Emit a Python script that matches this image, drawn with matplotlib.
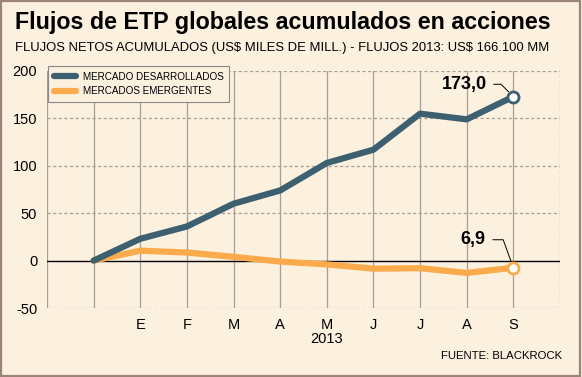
"""Flujos de ETP globales acumulados en acciones."""

import matplotlib

matplotlib.use("Agg")
from matplotlib import pyplot
from matplotlib.patches import Rectangle

months = ["E", "F", "M", "A", "M", "J", "J", "A", "S"]
desarrollados = [0, 23, 36, 60, 74, 103, 117, 155, 149, 173]
emergentes = [0, 10.5, 8.5, 4, -1, -4, -8.5, -8, -13, -7.5]
y_ticks = [-50, 0, 50, 100, 150, 200]

BG = "#fcf0df"
BLUE = "#3d6070"
ORANGE = "#fbab4c"
GRID = "#a59f97"

pyplot.rcParams["font.family"] = ["Liberation Sans", "DejaVu Sans"]

fig = pyplot.figure(figsize=(5.82, 3.77), dpi=100, facecolor=BG)
fig.patches.append(
    Rectangle((0.002, 0.003), 0.995, 0.994, transform=fig.transFigure,
              fill=False, edgecolor="#9c8478", linewidth=1.6)
)

ax = fig.add_axes([47 / 582, 1 - 308 / 377, 513 / 582, 237 / 377])
ax.set_facecolor(BG)
ax.set_xlim(0, 11)
ax.set_ylim(-50, 200)

for s in ax.spines.values():
    s.set_visible(False)

for y in y_ticks:
    if y == 0:
        ax.axhline(0, color="black", linewidth=1.0, zorder=2)
    else:
        ax.axhline(y, color=GRID, linewidth=0.9, linestyle=(0, (2.5, 2)), zorder=1)
for x in range(0, 11):
    ax.axvline(x, color=GRID, linewidth=0.9, zorder=1)
ax.axvline(11, color=GRID, linewidth=0.9, linestyle=(0, (2.5, 2)), zorder=1)

xs = list(range(1, len(desarrollados) + 1))
ax.plot(xs, emergentes, color=ORANGE, linewidth=4.5, solid_capstyle="round",
        solid_joinstyle="round", zorder=3, label="MERCADOS EMERGENTES")
ax.plot(xs, desarrollados, color=BLUE, linewidth=4.5, solid_capstyle="round",
        solid_joinstyle="round", zorder=4, label="MERCADO DESARROLLADOS")
ax.plot(xs[-1], desarrollados[-1], "o", markersize=8, markerfacecolor="white",
        markeredgecolor=BLUE, markeredgewidth=2, zorder=5)
ax.plot(xs[-1], emergentes[-1], "o", markersize=8, markerfacecolor="white",
        markeredgecolor=ORANGE, markeredgewidth=2, zorder=5)

ax.set_yticks(y_ticks)
ax.set_yticklabels([str(v) for v in y_ticks], fontsize=10.5)
ax.set_xticks(range(2, 2 + len(months)))
ax.set_xticklabels(months, fontsize=10.5)
ax.tick_params(length=0)
ax.tick_params(axis="x", pad=7)
ax.tick_params(axis="y", pad=7)
ax.text(6, -83, "2013", ha="center", va="center", fontsize=10.5)

# value callouts
ax.annotate("173,0", xy=(xs[-1], desarrollados[-1]), xytext=(9.43, 186),
            fontsize=13, fontweight="bold", ha="right", va="center",
            arrowprops=dict(arrowstyle="-", color="black", linewidth=0.7,
                            shrinkA=3, shrinkB=5,
                            connectionstyle="angle,angleA=0,angleB=135,rad=0"))
ax.annotate("6,9", xy=(xs[-1], emergentes[-1]), xytext=(9.41, 22),
            fontsize=13, fontweight="bold", ha="right", va="center",
            arrowprops=dict(arrowstyle="-", color="black", linewidth=0.7,
                            shrinkA=3, shrinkB=5,
                            connectionstyle="angle,angleA=0,angleB=110,rad=0"))

handles, labels = ax.get_legend_handles_labels()
leg = ax.legend(handles[::-1], labels[::-1], loc="upper left",
                bbox_to_anchor=(1 / 513, 1 + 5 / 237), borderaxespad=0,
                fontsize=7.1, frameon=True, fancybox=False,
                edgecolor="#8a8a8a", facecolor=BG, framealpha=1,
                handlelength=2.2, handletextpad=0.7, borderpad=0.6,
                labelspacing=0.45)
leg.get_frame().set_linewidth(0.8)
leg.set_zorder(6)

title = fig.text(15 / 582, 1 - 22 / 377,
                 "Flujos de ETP globales acumulados en acciones",
                 fontsize=20, fontweight="bold", va="center", ha="left")
subtitle = fig.text(15 / 582, 1 - 48 / 377,
                    r"FLUJOS NETOS ACUMULADOS (US\$ MILES DE MILL.) - FLUJOS 2013: US\$ 166.100 MM",
                    fontsize=10, va="center", ha="left")
fig.text(562 / 582, 1 - 356 / 377, "FUENTE: BLACKROCK", fontsize=8.2,
         va="center", ha="right")

# squeeze the header lines to the width they take in the original
renderer = fig.canvas.get_renderer()
for txt, width_px in ((title, 537), (subtitle, 533)):
    w = txt.get_window_extent(renderer).width
    txt.set_fontsize(txt.get_fontsize() * width_px / w)

fig.savefig("out.png", dpi=100, facecolor=BG)
